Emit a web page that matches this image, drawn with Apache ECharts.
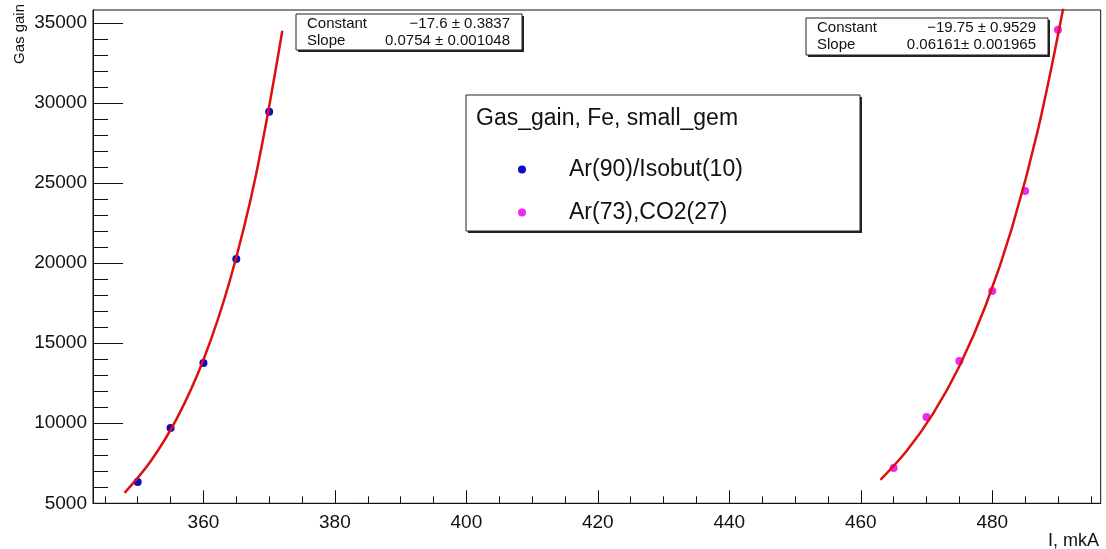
<!DOCTYPE html>
<html>
<head>
<meta charset="utf-8">
<script src="https://cdn.jsdelivr.net/npm/echarts@6/dist/echarts.min.js"></script>
<style>
html,body{margin:0;padding:0;background:#fff;}
#chart{width:1106px;height:549px;}
</style>
</head>
<body>
<div id="chart"></div>
<script>
// ---- data ----
const seriesNames = ['Ar(90)/Isobut(10)', 'Ar(73),CO2(27)'];
const arIsoX = [350, 355, 360, 365, 370];
const arIsoY = [6330, 9700, 13760, 20260, 29440];
const arCo2X = [465, 470, 475, 480, 485, 490];
const arCo2Y = [7200, 10390, 13890, 18260, 24500, 34560];
// fitted curves
const fit1X = [348, 352, 356, 360, 364, 368, 372];
const fit1Y = [5650, 7640, 10330, 13960, 18880, 25520, 34500];
const fit2X = [463, 467, 471, 475, 479, 483, 487, 491];
const fit2Y = [6470, 8280, 10600, 13560, 17350, 22200, 28400, 36330];
const xMajorTicks = [360, 380, 400, 420, 440, 460, 480];
const xMinorTicks = [345, 350, 355, 365, 370, 375, 385, 390, 395, 405, 410, 415, 425, 430, 435, 445, 450, 455, 465, 470, 475, 485, 490, 495];
const yMajorTicks = [5000, 10000, 15000, 20000, 25000, 30000, 35000];
const yMinorTicks = [6000, 7000, 8000, 9000, 11000, 12000, 13000, 14000, 16000, 17000, 18000, 19000, 21000, 22000, 23000, 24000, 26000, 27000, 28000, 29000, 31000, 32000, 33000, 34000];
const legendTitle = 'Gas_gain, Fe, small_gem';
const stat1 = [['Constant', '\u221217.6 \u00b1 0.3837'], ['Slope', '0.0754 \u00b1 0.001048']];
const stat2 = [['Constant', '\u221219.75 \u00b1 0.9529'], ['Slope', '0.06161\u00b1 0.001965']];
const xTitle = 'I, mkA';
const yTitle = 'Gas gain';

const zip = (xs, ys) => xs.map((x, i) => [x, ys[i]]);
const FONT = 'Liberation Sans, Arial, sans-serif';
const X_MIN = 343.2, X_MAX = 496.5, Y_MIN = 5000, Y_MAX = 35800;

const chart = echarts.init(document.getElementById('chart'), null, {renderer: 'canvas'});

function statBox(x, y, w, h, rows) {
  const children = [
    {type: 'rect', shape: {x: x + 2, y: y + 2, width: w, height: h}, style: {fill: '#222'}},
    {type: 'rect', shape: {x: x, y: y, width: w, height: h}, style: {fill: '#fff', stroke: '#222', lineWidth: 1}}
  ];
  rows.forEach((r, i) => {
    const cy = y + 10 + i * 17;
    children.push({type: 'text', style: {x: x + 11, y: cy, text: r[0], font: '15px ' + FONT, fill: '#111', textVerticalAlign: 'middle', textAlign: 'left'}});
    children.push({type: 'text', style: {x: x + w - 12, y: cy, text: r[1], font: '15px ' + FONT, fill: '#111', textVerticalAlign: 'middle', textAlign: 'right'}});
  });
  return {type: 'group', children: children, z: 100};
}

const axisColor = '#111';
const plain = v => String(v);
const option = {
  animation: false,
  backgroundColor: '#fff',
  grid: {left: 93, right: 5.3, top: 10, bottom: 45.7, show: true, borderColor: axisColor, borderWidth: 1, containLabel: false},
  xAxis: [
    {type: 'value', min: X_MIN, max: X_MAX, position: 'bottom',
     axisLine: {show: true, lineStyle: {color: axisColor, width: 1}},
     axisTick: {show: true, inside: true, length: 13, customValues: xMajorTicks, lineStyle: {color: axisColor}},
     axisLabel: {show: true, customValues: xMajorTicks, formatter: plain, fontSize: 19, fontFamily: FONT, color: '#111', margin: 10},
     splitLine: {show: false}},
    {type: 'value', min: X_MIN, max: X_MAX, position: 'bottom',
     axisLine: {show: false},
     axisTick: {show: true, inside: true, length: 7, customValues: xMinorTicks, lineStyle: {color: axisColor}},
     axisLabel: {show: false}, splitLine: {show: false}}
  ],
  yAxis: [
    {type: 'value', min: Y_MIN, max: Y_MAX, position: 'left',
     axisLine: {show: true, lineStyle: {color: axisColor, width: 1}},
     axisTick: {show: true, inside: true, length: 30, customValues: yMajorTicks, lineStyle: {color: axisColor}},
     axisLabel: {show: true, customValues: yMajorTicks, formatter: plain, fontSize: 19, fontFamily: FONT, color: '#111', margin: 6},
     splitLine: {show: false}},
    {type: 'value', min: Y_MIN, max: Y_MAX, position: 'left',
     axisLine: {show: false},
     axisTick: {show: true, inside: true, length: 15, customValues: yMinorTicks, lineStyle: {color: axisColor}},
     axisLabel: {show: false}, splitLine: {show: false}}
  ],
  legend: {
    orient: 'vertical', left: 513, top: 153, itemGap: 20,
    itemWidth: 8, itemHeight: 8, icon: 'circle',
    data: seriesNames,
    textStyle: {fontSize: 23, fontFamily: FONT, color: '#111', padding: [0, 0, 0, 38]},
    z: 110
  },
  graphic: [
    statBox(296, 14, 226, 36, stat1),
    statBox(806, 18, 242, 37, stat2),
    {type: 'group', z: 100, children: [
      {type: 'rect', shape: {x: 468, y: 97, width: 394, height: 136}, style: {fill: '#222'}},
      {type: 'rect', shape: {x: 466, y: 95, width: 394, height: 136}, style: {fill: '#fff', stroke: '#222', lineWidth: 1}},
      {type: 'text', style: {x: 476, y: 119, text: legendTitle, font: '23px ' + FONT, fill: '#111', textVerticalAlign: 'middle'}}
    ]},
    {type: 'text', z: 100, rotation: Math.PI / 2, x: 20, y: 4,
     style: {text: yTitle, font: '15px ' + FONT, fill: '#111', textAlign: 'right', textVerticalAlign: 'middle'}},
    {type: 'text', z: 100, style: {x: 1099, y: 541, text: xTitle, font: '18px ' + FONT, fill: '#111', textAlign: 'right', textVerticalAlign: 'middle'}}
  ],
  series: [
    {name: seriesNames[0], type: 'scatter', xAxisIndex: 0, yAxisIndex: 0, data: zip(arIsoX, arIsoY),
     symbol: 'circle', symbolSize: 8, itemStyle: {color: '#0c0cc8', opacity: 1}, z: 2},
    {name: seriesNames[1], type: 'scatter', xAxisIndex: 0, yAxisIndex: 0, data: zip(arCo2X, arCo2Y),
     symbol: 'circle', symbolSize: 8, itemStyle: {color: '#f028f0', opacity: 1}, z: 2},
    {name: 'fit1', type: 'line', xAxisIndex: 0, yAxisIndex: 0, data: zip(fit1X, fit1Y), smooth: 0.35,
     showSymbol: false, clip: true, lineStyle: {color: '#dd1010', width: 2.5}, z: 3, silent: true},
    {name: 'fit2', type: 'line', xAxisIndex: 0, yAxisIndex: 0, data: zip(fit2X, fit2Y), smooth: 0.35,
     showSymbol: false, clip: true, lineStyle: {color: '#dd1010', width: 2.5}, z: 3, silent: true}
  ]
};
chart.setOption(option);
</script>
</body>
</html>
